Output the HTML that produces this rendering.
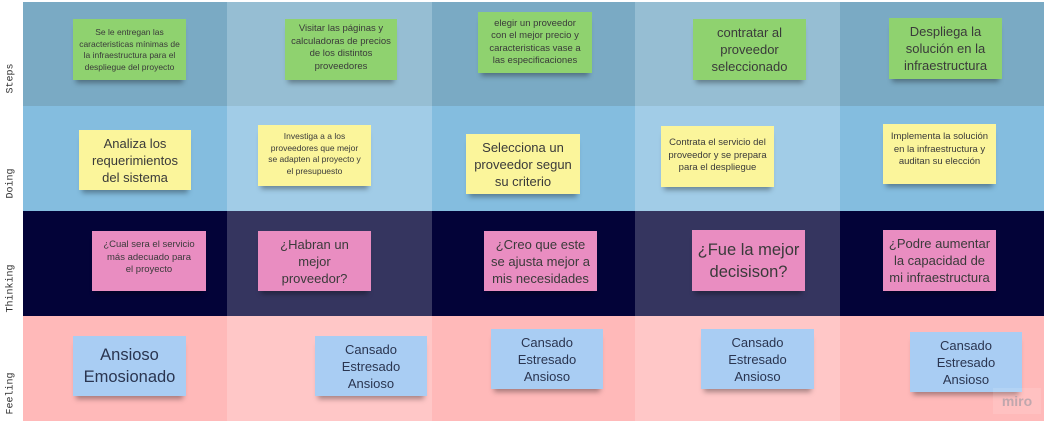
<!DOCTYPE html>
<html><head><meta charset="utf-8"><style>
*{margin:0;padding:0;box-sizing:border-box}
body{width:1045px;height:424px;background:#fff;position:relative;overflow:hidden;font-family:"Liberation Sans",sans-serif}
.c{position:absolute}
.lab{position:absolute;left:0;width:22px;font-family:"Liberation Mono",monospace;font-size:10px;color:#333;display:flex;align-items:flex-end;justify-content:center}
.lab span{transform:rotate(-90deg);white-space:nowrap;display:block;transform-origin:center;margin-bottom:22px}
.n{position:absolute;display:flex;align-items:center;justify-content:center;text-align:center;color:#3a3a3a;box-shadow:0 6px 5px -3px rgba(0,0,0,.35);padding:2px 2px;white-space:nowrap}
.g{background:#8fd26f}.y{background:#fbf59b}.p{background:#e98dc1}.b{background:#a9cdf3;color:#2a3550}
.s1{font-size:8.5px;line-height:11.5px}.s2{font-size:9.5px;line-height:12.5px}.s3{font-size:13px;line-height:17px}.s4{font-size:16.5px;line-height:22px}
</style></head><body>
<div class="c" style="left:23px;top:2px;width:1021px;height:104px;background:#7aaac4"></div>
<div class="c" style="left:23px;top:106px;width:1021px;height:105px;background:#84bddf"></div>
<div class="c" style="left:23px;top:211px;width:1021px;height:105px;background:#030338"></div>
<div class="c" style="left:23px;top:316px;width:1021px;height:105px;background:#ffb9b9"></div>
<div class="c" style="left:227px;top:2px;width:205px;height:104px;background:#96bed3"></div>
<div class="c" style="left:635px;top:2px;width:205px;height:104px;background:#96bed3"></div>
<div class="c" style="left:227px;top:106px;width:205px;height:105px;background:#a1cce7"></div>
<div class="c" style="left:635px;top:106px;width:205px;height:105px;background:#a1cce7"></div>
<div class="c" style="left:227px;top:211px;width:205px;height:105px;background:#35355f"></div>
<div class="c" style="left:635px;top:211px;width:205px;height:105px;background:#35355f"></div>
<div class="c" style="left:227px;top:316px;width:205px;height:105px;background:#ffc7c7"></div>
<div class="c" style="left:635px;top:316px;width:205px;height:105px;background:#ffc7c7"></div>

<div class="lab" style="top:2px;height:104px"><span>Steps</span></div>
<div class="lab" style="top:106px;height:105px"><span>Doing</span></div>
<div class="lab" style="top:211px;height:105px"><span>Thinking</span></div>
<div class="lab" style="top:316px;height:105px"><span>Feeling</span></div>

<div class="n g s1" style="left:73px;top:19px;width:113px;height:61px;align-items:flex-start;padding-top:8px">Se le entregan las<br>caracteristicas mínimas de<br>la infraestructura para el<br>despliegue del proyecto</div>
<div class="n g s2" style="left:285px;top:19px;width:112px;height:61px;align-items:flex-start;padding-top:4px">Visitar las páginas y<br>calculadoras de precios<br>de los distintos<br>proveedores</div>
<div class="n g s2" style="left:478px;top:12px;width:114px;height:61px">elegir un proveedor<br>con el mejor precio y<br>caracteristicas vase a<br>las especificaciones</div>
<div class="n g s3" style="left:693px;top:19px;width:113px;height:61px">contratar al<br>proveedor<br>seleccionado</div>
<div class="n g s3" style="left:889px;top:18px;width:113px;height:61px">Despliega la<br>solución en la<br>infraestructura</div>

<div class="n y s3" style="left:79px;top:130px;width:112px;height:60px">Analiza los<br>requerimientos<br>del sistema</div>
<div class="n y s1" style="left:258px;top:125px;width:113px;height:61px;align-items:flex-start;padding-top:6px">Investiga a a los<br>proveedores que mejor<br>se adapten al proyecto y<br>el presupuesto</div>
<div class="n y s3" style="left:466px;top:134px;width:114px;height:60px">Selecciona un<br>proveedor segun<br>su criterio</div>
<div class="n y s2" style="left:661px;top:126px;width:113px;height:61px;align-items:flex-start;padding-top:11px">Contrata el servicio del<br>proveedor y se prepara<br>para el despliegue</div>
<div class="n y s2" style="left:883px;top:124px;width:113px;height:60px;align-items:flex-start;padding-top:7px">Implementa la solución<br>en la infraestructura y<br>auditan su elección</div>

<div class="n p s2" style="left:92px;top:231px;width:114px;height:60px;align-items:flex-start;padding-top:8px">¿Cual sera el servicio<br>más adecuado para<br>el proyecto</div>
<div class="n p s3" style="left:258px;top:231px;width:113px;height:60px">¿Habran un<br>mejor<br>proveedor?</div>
<div class="n p s3" style="left:484px;top:231px;width:113px;height:60px">¿Creo que este<br>se ajusta mejor a<br>mis necesidades</div>
<div class="n p s4" style="left:692px;top:230px;width:113px;height:61px">¿Fue la mejor<br>decisison?</div>
<div class="n p s3" style="left:883px;top:230px;width:113px;height:61px">¿Podre aumentar<br>la capacidad de<br>mi infraestructura</div>

<div class="n b s4" style="left:73px;top:336px;width:113px;height:60px">Ansioso<br>Emosionado</div>
<div class="n b s3" style="left:315px;top:336px;width:112px;height:60px">Cansado<br>Estresado<br>Ansioso</div>
<div class="n b s3" style="left:491px;top:329px;width:112px;height:60px">Cansado<br>Estresado<br>Ansioso</div>
<div class="n b s3" style="left:701px;top:329px;width:113px;height:60px">Cansado<br>Estresado<br>Ansioso</div>
<div class="n b s3" style="left:910px;top:332px;width:112px;height:60px">Cansado<br>Estresado<br>Ansioso</div>

<div class="c" style="left:993px;top:388px;width:48px;height:26px;background:rgba(255,255,255,.12);color:rgba(150,150,160,.6);font-size:14px;font-weight:bold;display:flex;align-items:center;justify-content:center">miro</div>
</body></html>
